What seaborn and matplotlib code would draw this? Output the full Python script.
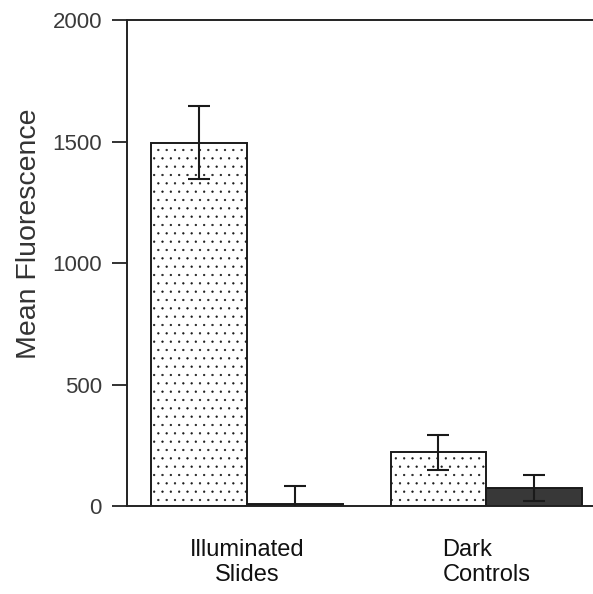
import matplotlib
matplotlib.use("Agg")
import matplotlib.pyplot as plt
import numpy as np
import pandas as pd
import seaborn as sns

# values
groups = ["Illuminated\nSlides", "Dark\nControls"]
series = ["Light", "Dark"]
light_means = [1495, 222]
dark_means = [10, 74]
light_err = [150, 72]
dark_err = [72, 52]

df = pd.DataFrame({
    "group": groups * 2,
    "series": [series[0]] * 2 + [series[1]] * 2,
    "value": light_means + dark_means,
    "err": light_err + dark_err,
})

sns.set_style("white")
plt.rcParams["font.family"] = ["Liberation Sans", "DejaVu Sans"]
plt.rcParams["hatch.linewidth"] = 0.4

fig = plt.figure(figsize=(5.93, 5.94), dpi=100)
ax = fig.add_axes([0.214, 0.148, 0.786, 0.818])

sns.barplot(data=df, x="group", y="value", hue="series", order=groups,
            hue_order=series, palette=["white", "#383838"], width=0.8,
            errorbar=None, edgecolor="#1a1a1a", linewidth=1.4, legend=False,
            ax=ax)

# stipple the light bars, error bars from the patches
for patch, (_, row) in zip(ax.patches, df.iterrows()):
    if row["series"] == "Light":
        patch.set_hatch("..")
    cx = patch.get_x() + patch.get_width() / 2
    ax.errorbar(cx, row["value"], yerr=row["err"], fmt="none",
                ecolor="#1a1a1a", elinewidth=1.5, capsize=8, capthick=1.5,
                zorder=5)

ax.set_ylim(0, 2000)
ax.set_xlim(-0.5, 1.445)
ax.set_yticks([0, 500, 1000, 1500, 2000])
ax.set_ylabel("Mean Fluorescence", fontsize=20.5, color="#333333")
ax.yaxis.set_label_coords(-0.183, 0.56)
ax.set_xlabel("")

ax.tick_params(axis="y", direction="out", length=11, width=1.3,
               colors="#222222", labelsize=16, labelcolor="#3a3a3a", pad=7,
               left=True)
ax.tick_params(axis="x", length=0, labelsize=17, labelcolor="#111111", pad=24)
ax.set_xticks([0, 1])
ax.set_xticklabels(groups)
for lab in ax.get_xticklabels():
    lab.set_linespacing(1.15)
ax.get_xticklabels()[1].set_multialignment("left")

for side in ["left", "top", "bottom"]:
    ax.spines[side].set_visible(True)
    ax.spines[side].set_color("#222222")
    ax.spines[side].set_linewidth(1.4)
ax.spines["right"].set_visible(False)

fig.savefig("out.png", dpi=100, facecolor="white")
